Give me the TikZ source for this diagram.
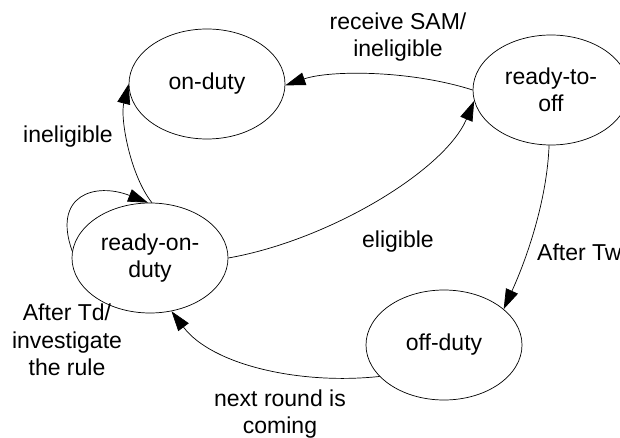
\documentclass[tikz,border=0pt]{standalone}
\usepackage{fontspec}
\setmainfont{Liberation Sans}
\usetikzlibrary{shapes.geometric,arrows.meta}
\begin{document}
\begin{tikzpicture}[x=1pt,y=-1pt,
  state/.style={draw,ellipse,line width=0.7pt,minimum width=156pt,minimum height=110pt,inner sep=0pt,
    font=\fontsize{23}{27.5}\selectfont,align=center},
  lbl/.style={font=\fontsize{23}{27.5}\selectfont,align=center,inner sep=0pt},
  trans/.style={line width=0.7pt,-{Triangle[length=20pt,width=13pt]}}]
\useasboundingbox (0,0) rectangle (620,438);
\clip (0,0) rectangle (620,438);
\node[state] (on) at (207,84) {on-duty};
\node[state] (rto) at (551,90) {ready-to-\\off};
\node[state] (rod) at (150,258) {ready-on-\\duty};
\node[state] (off) at (444,345) {off-duty};
% transitions
\draw[trans] (rto.180) .. controls (410,70) and (330,70) .. (on.-1);
\draw[trans] (rod.0) .. controls (330,240) and (445,170) .. (rto.188);
\draw[trans] (rod.88) .. controls (130,175) and (120,118) .. (on.180);
\draw[trans] (rod.175) .. controls (52,195) and (95,182) .. (rod.92);
\draw[trans] (rto.-92) .. controls (547,200) and (527,258) .. (off.31);
\draw[trans] (off.-154) .. controls (300,385) and (212,365) .. (rod.-68);
% labels
\node[lbl] (l1) at (398,37) {receive SAM/\\ineligible};
\node[lbl] (l2) at (68,137) {ineligible};
\node[lbl] (l3) at (398,242) {eligible};
\node[lbl,anchor=west] (l4) at (537,252) {After Tw};
\node[lbl] (l5) at (67,340) {After Td/\\investigate\\the rule};
\node[lbl] (l6) at (280,414) {next round is\\coming};
\end{tikzpicture}
\end{document}
